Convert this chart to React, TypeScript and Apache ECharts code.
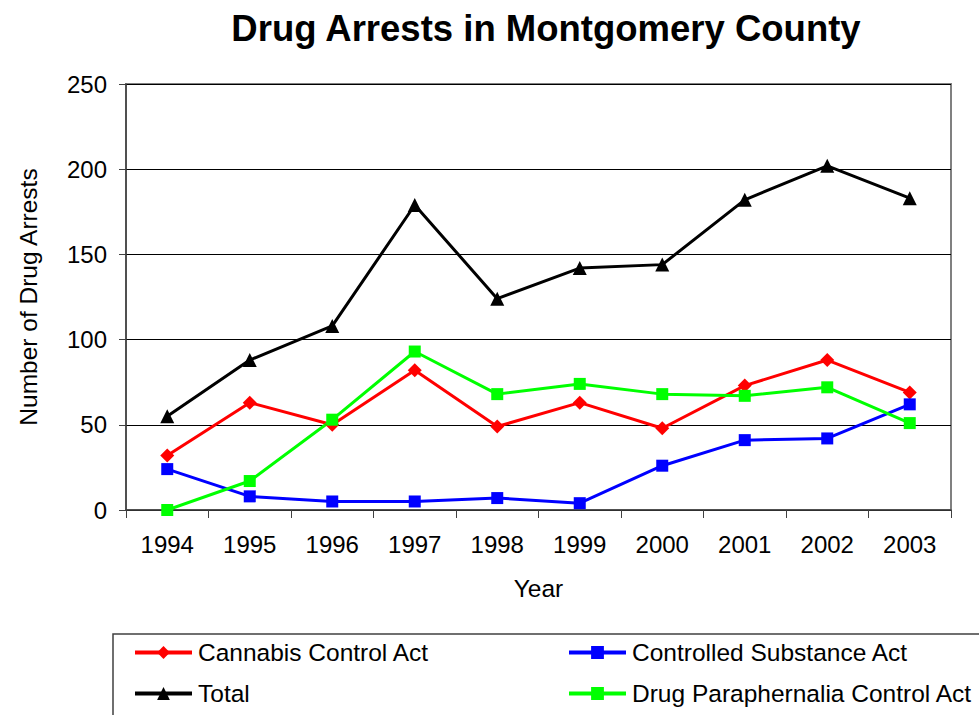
import React, { useEffect, useRef } from "react";
import * as echarts from "echarts";

const years = ["1994", "1995", "1996", "1997", "1998", "1999", "2000", "2001", "2002", "2003"];
const cannabis = [32, 63, 50, 82, 49, 63, 48, 73, 88, 69];
const controlled = [24, 8, 5, 5, 7, 4, 26, 41, 42, 62];
const total = [55, 88, 108, 179, 124, 142, 144, 182, 202, 183];
const paraphernalia = [0, 17, 53, 93, 68, 74, 68, 67, 72, 51];

const FONT = "'Liberation Sans', Arial, sans-serif";

export default function App() {
  const ref = useRef<HTMLDivElement>(null);
  useEffect(() => {
    if (!ref.current) return;
    const chart = echarts.init(ref.current, null, { renderer: "svg" });
    const mkLegend = (name: string, left: number, top: number) => ({
      data: [{ name, lineStyle: { width: 4 } }],
      left,
      top,
      orient: "horizontal",
      padding: 0,
      itemWidth: 57,
      itemHeight: 16,
      itemGap: 0,
      selectedMode: false,
      lineStyle: { width: 4 },
      textStyle: { fontFamily: FONT, fontSize: 24.5, color: "#000", padding: [0, 0, 0, 1] },
    });
    const mkSeries = (name: string, data: number[], color: string, symbol: string, size: number) => ({
      name,
      type: "line",
      data,
      symbol,
      symbolSize: size,
      showSymbol: true,
      lineStyle: { color, width: 3 },
      itemStyle: { color, borderWidth: 0 },
      emphasis: { disabled: true },
    });
    chart.setOption({
      animation: false,
      backgroundColor: "#fff",
      textStyle: { fontFamily: FONT },
      title: {
        text: "Drug Arrests in Montgomery County",
        left: 541,
        top: 5,
        textAlign: "center",
        textStyle: { fontFamily: FONT, fontSize: 36.5, fontWeight: "bold", color: "#000" },
      },
      grid: {
        left: 126,
        right: 28,
        top: 84,
        bottom: 205,
        show: true,
        borderColor: "#808080",
        borderWidth: 2,
        backgroundColor: "#fff",
      },
      legend: [
        mkLegend("Cannabis Control Act", 133, 640),
        mkLegend("Controlled Substance Act", 567, 640),
        mkLegend("Total", 133, 681),
        mkLegend("Drug Paraphernalia Control Act", 567, 681),
      ],
      xAxis: {
        type: "category",
        data: years,
        boundaryGap: true,
        name: "Year",
        nameLocation: "middle",
        nameGap: 66,
        nameTextStyle: { fontFamily: FONT, fontSize: 24.5, color: "#000", verticalAlign: "top" },
        axisLine: { lineStyle: { color: "#404040", width: 1.5 } },
        axisTick: { show: true, length: 8, alignWithLabel: false, lineStyle: { color: "#404040" } },
        axisLabel: { fontFamily: FONT, fontSize: 24, color: "#000", margin: 22 },
        splitLine: { show: false },
      },
      yAxis: {
        type: "value",
        min: 0,
        max: 250,
        interval: 50,
        name: "Number of Drug Arrests",
        nameLocation: "middle",
        nameGap: 85,
        nameTextStyle: { fontFamily: FONT, fontSize: 24.5, color: "#000" },
        axisLine: { show: true, lineStyle: { color: "#404040", width: 1.5 } },
        axisTick: { show: true, length: 7, lineStyle: { color: "#404040" } },
        axisLabel: { fontFamily: FONT, fontSize: 24, color: "#000", margin: 19 },
        splitLine: { show: true, lineStyle: { color: "#000", width: 1 } },
      },
      series: [
        mkSeries("Cannabis Control Act", cannabis, "#FF0000", "diamond", 14),
        mkSeries("Controlled Substance Act", controlled, "#0000FF", "rect", 12),
        mkSeries("Total", total, "#000000", "triangle", 14),
        mkSeries("Drug Paraphernalia Control Act", paraphernalia, "#00FF00", "rect", 12),
      ],
      graphic: [
        {
          type: "rect",
          shape: { x: 113, y: 634, width: 900, height: 120 },
          style: { fill: "none", stroke: "#404040", lineWidth: 1.5 },
          silent: true,
        },
      ],
    });
    return () => chart.dispose();
  }, []);
  return (
    <div
      ref={ref}
      style={{ position: "fixed", left: 0, top: 0, width: 979, height: 715, background: "#fff" }}
    />
  );
}
